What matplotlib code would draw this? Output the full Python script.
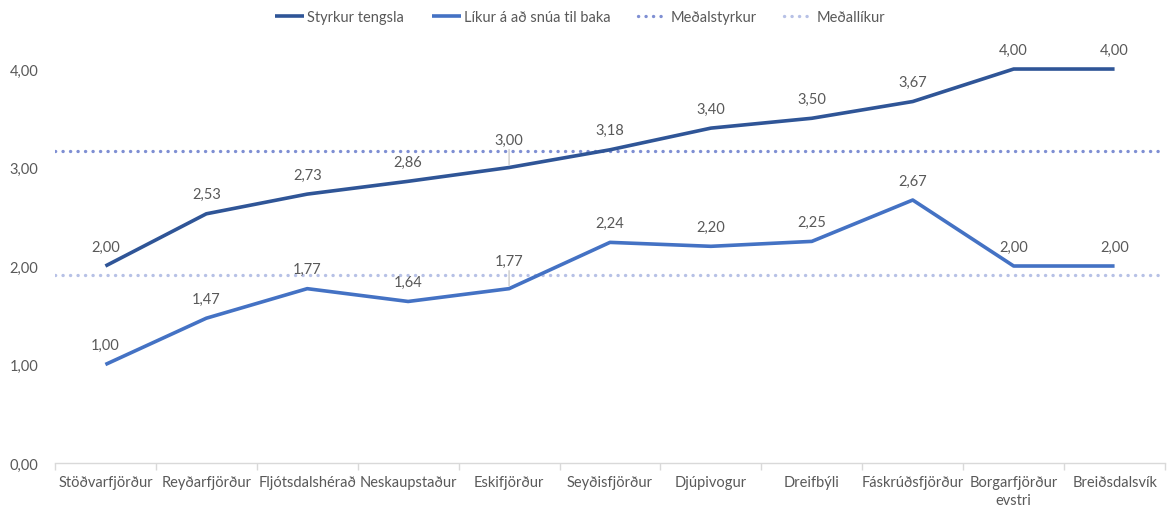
import numpy as np
import matplotlib.pyplot as plt

# Data
stadir = ['Stöðvarfjörður', 'Reyðarfjörður', 'Fljótsdalshérað', 'Neskaupstaður',
          'Eskifjörður', 'Seyðisfjörður', 'Djúpivogur', 'Dreifbýli',
          'Fáskrúðsfjörður', 'Borgarfjörður\nevstri', 'Breiðsdalsvík']
styrkur = [2.00, 2.53, 2.73, 2.86, 3.00, 3.18, 3.40, 3.50, 3.67, 4.00, 4.00]
likur = [1.00, 1.47, 1.77, 1.64, 1.77, 2.24, 2.20, 2.25, 2.67, 2.00, 2.00]
medalstyrkur = 3.17
medallikur = 1.91
yticks = [0, 1, 2, 3, 4]

plt.rcParams['font.family'] = ['Lato', 'DejaVu Sans']
txt = '#595959'

fig = plt.figure(figsize=(11.69, 5.10), dpi=100)
ax = fig.add_axes([0.047, 0.0902, 0.9496, 0.7725])

x = np.arange(len(stadir))
dots = (0, (0.05, 2.2))
ax.axhline(medalstyrkur, color='#7F8FD3', lw=2.4, ls=dots, dash_capstyle='round',
           label='Meðalstyrkur', zorder=1)
ax.axhline(medallikur, color='#B7C1E6', lw=2.4, ls=dots, dash_capstyle='round',
           label='Meðallíkur', zorder=1)
ax.plot(x, styrkur, color='#2F5597', lw=2.6, label='Styrkur tengsla', zorder=3,
        clip_on=False, solid_capstyle='butt')
ax.plot(x, likur, color='#4472C4', lw=2.6, label='Líkur á að snúa til baka', zorder=3,
        clip_on=False, solid_capstyle='butt')

# data labels
for serie in (styrkur, likur):
    for i, v in enumerate(serie):
        off = 14
        if i == 4:
            # Excel-like leader line for the label moved up
            off = 20
            ax.annotate('', xy=(i, v), xytext=(0, 13), textcoords='offset points',
                        arrowprops=dict(arrowstyle='-', color='#BFBFBF', lw=0.8,
                                        shrinkA=0, shrinkB=2))
        ax.annotate(f'{v:.2f}'.replace('.', ','), (i, v), xytext=(0, off),
                    textcoords='offset points', ha='center', va='center',
                    fontsize=10.5, color=txt, annotation_clip=False)

ax.set_xlim(-0.5, len(stadir) - 0.5)
ax.set_ylim(0, 4)
ax.set_yticks(yticks)
ax.set_yticklabels([f'{t:.2f}'.replace('.', ',') for t in yticks])
ax.set_xticks(x)
ax.set_xticklabels(stadir, fontsize=10.5, color=txt, linespacing=1.3)
ax.set_xticks(np.arange(len(stadir) + 1) - 0.5, minor=True)
ax.tick_params(axis='x', which='major', length=0, pad=9)
ax.tick_params(axis='x', which='minor', length=5, color='#D9D9D9', width=1)
ax.tick_params(axis='y', length=0, labelsize=10.5, labelcolor=txt, pad=12)

for s in ['top', 'right', 'left']:
    ax.spines[s].set_visible(False)
ax.spines['bottom'].set_color('#D9D9D9')
ax.spines['bottom'].set_linewidth(1)

h, lab = ax.get_legend_handles_labels()
order = [2, 3, 0, 1]
ax.legend([h[i] for i in order], [lab[i] for i in order], loc='center', ncol=4,
          bbox_to_anchor=(0.473, 1.132), frameon=False, fontsize=10.5,
          labelcolor=txt, handlelength=2.0, handletextpad=0.2, columnspacing=1.9)

fig.savefig('out.png', dpi=100)
